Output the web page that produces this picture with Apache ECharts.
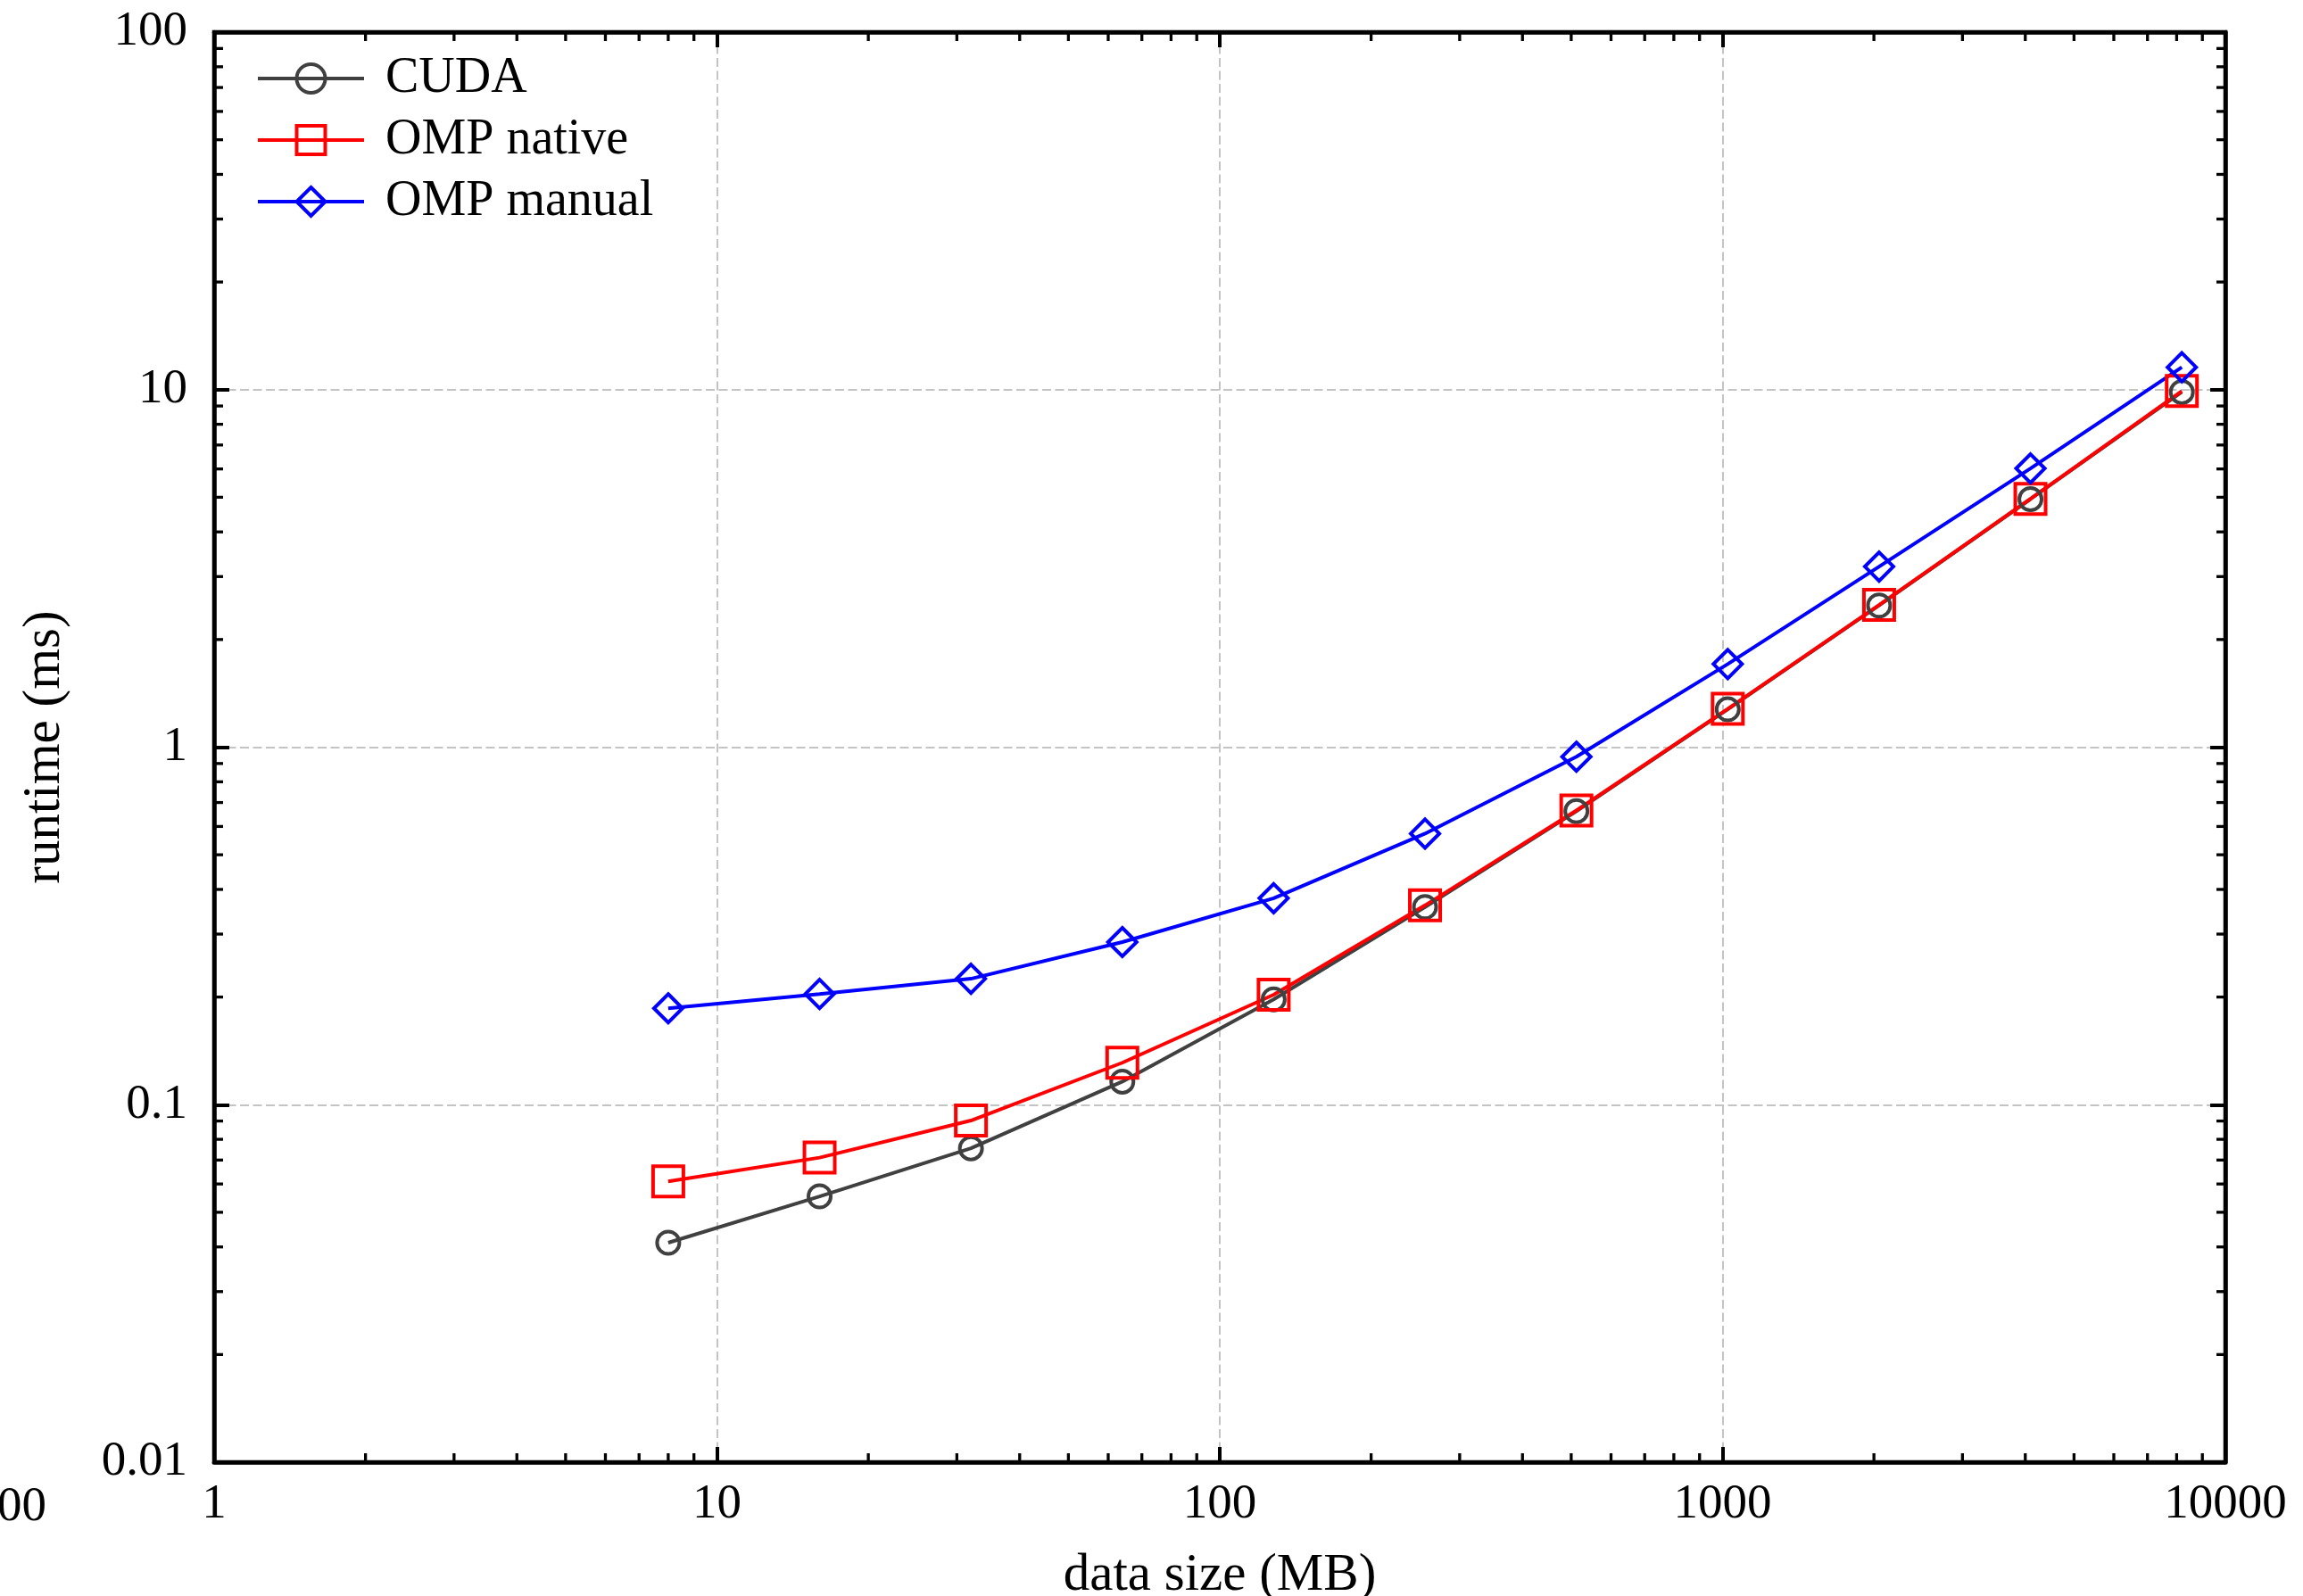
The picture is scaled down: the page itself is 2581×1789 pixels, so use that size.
<!DOCTYPE html>
<html>
<head>
    <meta charset="utf-8">
    <title>runtime vs data size</title>
    <script src="https://cdn.jsdelivr.net/npm/echarts@6/dist/echarts.min.js"></script>
    <style>
        html, body { margin: 0; padding: 0; background: #fff; }
    </style>
</head>
<body>
<div id="container" style="width: 2581px; height: 1789px;"></div>

<script type="text/javascript">

    // data size (MB)
    var sizes = [8, 16, 32, 64, 128, 256, 512, 1024, 2048, 4096, 8192];
    // runtime (ms)
    var cudaTimes = [0.0411, 0.0554, 0.0755, 0.116, 0.197, 0.357, 0.662, 1.276, 2.49, 4.94, 9.85];
    var ompNativeTimes = [0.0610, 0.0711, 0.0903, 0.131, 0.203, 0.361, 0.665, 1.28, 2.50, 4.95, 9.91];
    var ompManualTimes = [0.186, 0.204, 0.225, 0.285, 0.378, 0.573, 0.940, 1.708, 3.20, 6.02, 11.55];

    // minor tick positions for the log axes
    var xMinorTicks = [2, 3, 4, 5, 6, 7, 8, 9,
        20, 30, 40, 50, 60, 70, 80, 90,
        200, 300, 400, 500, 600, 700, 800, 900,
        2000, 3000, 4000, 5000, 6000, 7000, 8000, 9000];
    var yMinorTicks = [0.02, 0.03, 0.04, 0.05, 0.06, 0.07, 0.08, 0.09,
        0.2, 0.3, 0.4, 0.5, 0.6, 0.7, 0.8, 0.9,
        2, 3, 4, 5, 6, 7, 8, 9,
        20, 30, 40, 50, 60, 70, 80, 90];

    var FONT = '"Liberation Serif", "DejaVu Serif", serif';

    var dom = document.getElementById("container");
    var myChart = echarts.init(dom, null, {renderer: 'canvas'});

    function pairs(ys) {
        var out = [];
        for (var i = 0; i < sizes.length; i++) {
            out.push([sizes[i], ys[i]]);
        }
        return out;
    }

    function lineSeries(name, ys, color, symbol, size) {
        return {
            name: name,
            type: 'line',
            data: pairs(ys),
            symbol: symbol,
            symbolSize: size,
            showAllSymbol: true,
            lineStyle: {color: color, width: 4},
            itemStyle: {color: 'rgba(0,0,0,0)', borderColor: color, borderWidth: 4},
            emphasis: {disabled: true},
            z: 3,
            animation: false
        };
    }

    function fmt(v) {
        return String(+Number(v).toPrecision(6));
    }

    // short inward ticks for the minor positions, drawn on both sides of the frame
    function minorTickSeries(values, horizontal) {
        return {
            type: 'custom',
            silent: true,
            clip: false,
            z: 6,
            animation: false,
            data: values.map(function (v) { return horizontal ? [v, 1] : [1, v]; }),
            renderItem: function (params, api) {
                var cs = params.coordSys;
                var style = {stroke: '#000', lineWidth: 3.3};
                if (horizontal) {
                    var x = api.coord([api.value(0), 1])[0];
                    return {type: 'group', children: [
                        {type: 'line', shape: {x1: x, y1: cs.y + cs.height, x2: x, y2: cs.y + cs.height - 10}, style: style},
                        {type: 'line', shape: {x1: x, y1: cs.y, x2: x, y2: cs.y + 10}, style: style}
                    ]};
                }
                var y = api.coord([1, api.value(1)])[1];
                return {type: 'group', children: [
                    {type: 'line', shape: {x1: cs.x, y1: y, x2: cs.x + 10, y2: y}, style: style},
                    {type: 'line', shape: {x1: cs.x + cs.width, y1: y, x2: cs.x + cs.width - 10, y2: y}, style: style}
                ]};
            }
        };
    }

    var frameLine = {show: true, lineStyle: {color: '#000', width: 4.5}};
    var majorTick = {show: true, inside: true, length: 17, lineStyle: {color: '#000', width: 4}};
    var gridLine = {show: true, showMinLine: false, showMaxLine: false,
        lineStyle: {color: '#c4c4c4', width: 2, type: [10, 4.5]}};

    var option = {
        backgroundColor: '#fff',
        animation: false,
        grid: {
            left: 240, right: 87, top: 36, bottom: 150,
            show: true, borderColor: '#000', borderWidth: 4.5,
            backgroundColor: 'rgba(0,0,0,0)',
            outerBoundsMode: 'none'
        },
        legend: {
            data: ['CUDA', 'OMP native', 'OMP manual'],
            orient: 'vertical',
            left: 287, top: 60, padding: 0,
            itemWidth: 119, itemHeight: 40, itemGap: 13,
            lineStyle: {width: 4},
            itemStyle: {borderWidth: 4},
            textStyle: {fontFamily: FONT, fontSize: 56, color: '#000', padding: [0, 0, 0, 19]}
        },
        xAxis: [{
            type: 'log', logBase: 10, min: 1, max: 10000,
            name: 'data size (MB)', nameLocation: 'middle', nameGap: 98,
            nameTextStyle: {fontFamily: FONT, fontSize: 59, color: '#000'},
            axisLine: frameLine,
            axisTick: majorTick,
            axisLabel: {fontFamily: FONT, fontSize: 55, color: '#000', margin: 20, formatter: fmt},
            splitLine: gridLine
        }, {
            type: 'log', logBase: 10, min: 1, max: 10000, position: 'top',
            axisLine: frameLine,
            axisTick: majorTick,
            axisLabel: {show: false},
            splitLine: {show: false}
        }],
        yAxis: [{
            type: 'log', logBase: 10, min: 0.01, max: 100,
            name: 'runtime (ms)', nameLocation: 'middle', nameGap: 160,
            nameTextStyle: {fontFamily: FONT, fontSize: 59, color: '#000'},
            axisLine: frameLine,
            axisTick: majorTick,
            axisLabel: {fontFamily: FONT, fontSize: 55, color: '#000', margin: 30, formatter: fmt},
            splitLine: gridLine
        }, {
            type: 'log', logBase: 10, min: 0.01, max: 100, position: 'right',
            axisLine: frameLine,
            axisTick: majorTick,
            axisLabel: {show: false},
            splitLine: {show: false}
        }],
        graphic: [{
            type: 'text', x: 52, y: 1690, silent: true,
            style: {text: '100', font: '55px ' + FONT, fill: '#000', textAlign: 'right', textVerticalAlign: 'middle'}
        }],
        series: [
            lineSeries('CUDA', cudaTimes, '#404040', 'circle', 25),
            lineSeries('OMP native', ompNativeTimes, '#ff0000', 'rect', 34),
            lineSeries('OMP manual', ompManualTimes, '#0000ff', 'diamond', 32),
            minorTickSeries(xMinorTicks, true),
            minorTickSeries(yMinorTicks, false)
        ]
    };

    myChart.setOption(option, true);

</script>
</body>
</html>
